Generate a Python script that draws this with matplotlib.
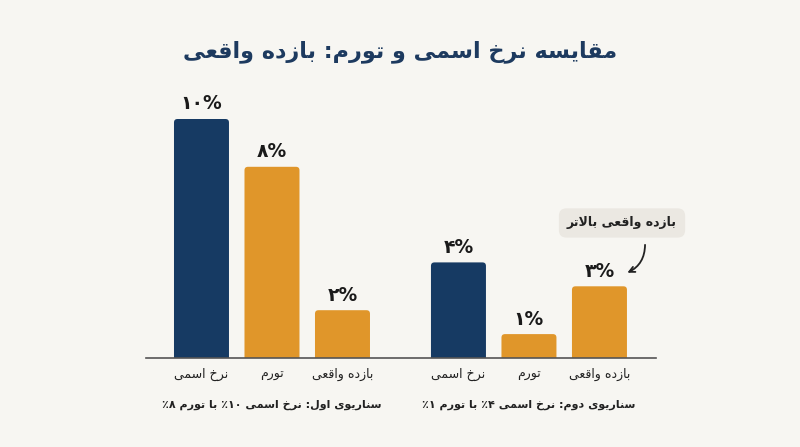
import re
import matplotlib.pyplot as plt
from matplotlib.patches import FancyBboxPatch

# --- data ---
title = 'مقایسه نرخ اسمی و تورم: بازده واقعی'
categories = ['نرخ اسمی', 'تورم', 'بازده واقعی']
scenario1 = [10, 8, 2]
scenario2 = [4, 1, 3]
value_labels1 = ['۱۰%', '۸%', '۲%']
value_labels2 = ['۴%', '۱%', '۳%']
scenario_titles = ['سناریوی اول: نرخ اسمی ۱۰٪ با تورم ۸٪',
                   'سناریوی دوم: نرخ اسمی ۴٪ با تورم ۱٪']
note = 'بازده واقعی بالاتر'

navy = '#163a63'
orange = '#e0962a'
bg = '#f7f6f2'
colors = [navy, orange, orange]

# matplotlib has no arabic shaping, so pick presentation forms by hand
# (isolated form codepoint, number of forms)
forms = {
    'ا': (0xFE8D, 2), 'ب': (0xFE8F, 4), 'ت': (0xFE95, 4), 'خ': (0xFEA5, 4),
    'د': (0xFEA9, 2), 'ر': (0xFEAD, 2), 'ز': (0xFEAF, 2), 'س': (0xFEB1, 4),
    'ع': (0xFEC9, 4), 'ق': (0xFED5, 4), 'ل': (0xFEDD, 4), 'م': (0xFEE1, 4),
    'ن': (0xFEE5, 4), 'ه': (0xFEE9, 4), 'و': (0xFEED, 2), 'ی': (0xFBFC, 4),
}


def fa(s):
    out = []
    i = 0
    while i < len(s):
        c = s[i]
        if c not in forms:
            out.append(c)
            i += 1
            continue
        prev = s[i - 1] if i > 0 else ''
        join_prev = prev in forms and forms[prev][1] == 4
        if c == 'ل' and i + 1 < len(s) and s[i + 1] == 'ا':
            out.append(chr(0xFEFC if join_prev else 0xFEFB))
            i += 2
            continue
        nxt = s[i + 1] if i + 1 < len(s) else ''
        base, k = forms[c]
        join_next = k == 4 and nxt in forms
        if join_prev and join_next:
            idx = 3
        elif join_prev:
            idx = 1
        elif join_next:
            idx = 2
        else:
            idx = 0
        out.append(chr(base + idx))
        i += 1
    vis = ''.join(reversed(out))
    return re.sub(r'[0-9۰-۹]+', lambda m: m.group(0)[::-1], vis)


plt.rcParams['font.family'] = ['DejaVu Sans']

x1 = [0, 1, 2]
x2 = [3.645, 4.645, 5.645]
width = 0.78

fig = plt.figure(figsize=(8, 4.47), dpi=100)
fig.patch.set_facecolor(bg)
ax = fig.add_axes([146 / 800, 1 - 358 / 447, 510 / 800, (358 - 95.1) / 447])
ax.set_facecolor(bg)
ax.set_xlim(-0.787, 6.447)
ax.set_ylim(0, 11)

for xs, vals, labs in [(x1, scenario1, value_labels1), (x2, scenario2, value_labels2)]:
    bars = ax.bar(xs, vals, width, color=colors)
    # swap each bar for one with slightly rounded top corners
    for r in bars:
        r.set_visible(False)
        ax.add_patch(FancyBboxPatch((r.get_x(), -0.5), r.get_width(), r.get_height() + 0.5,
                                    boxstyle='round,pad=0,rounding_size=0.05',
                                    mutation_aspect=2.9, facecolor=r.get_facecolor(),
                                    edgecolor='none'))
    for x, v, lab in zip(xs, vals, labs):
        ax.annotate(lab, (x, v), xytext=(0, 4), textcoords='offset points',
                    ha='center', va='bottom', fontsize=13.5, fontweight='bold', color='#1a1a1a')
    for x, cat in zip(xs, categories):
        ax.annotate(fa(cat), (x, 0), xytext=(0, -7), textcoords='offset points',
                    ha='center', va='top', fontsize=9, color='#222222')

for xs, st in zip([x1, x2], scenario_titles):
    ax.annotate(fa(st), (xs[1], 0), xytext=(0, -30), textcoords='offset points',
                ha='center', va='top', fontsize=8, fontweight='bold', color='#222222')

# callout on the higher real return
ax.text(x2[2] + 0.32, scenario2[2] + 2.65, fa(note), ha='center', va='center',
        fontsize=9, fontweight='bold', color='#222222',
        bbox=dict(boxstyle='round,pad=0.65,rounding_size=0.6', facecolor='#ebe8e2', edgecolor='none'))
ax.annotate('', xy=(x2[2] + 0.36, scenario2[2] + 0.52), xytext=(x2[2] + 0.646, scenario2[2] + 1.85),
            arrowprops=dict(arrowstyle='->', color='#222222', lw=1.3,
                            connectionstyle='arc3,rad=-0.35'))

for s in ['top', 'left', 'right']:
    ax.spines[s].set_visible(False)
ax.spines['bottom'].set_color('#555555')
ax.spines['bottom'].set_linewidth(1.2)
ax.spines['bottom'].set_zorder(3)
ax.set_xticks([])
ax.set_yticks([])

fig.text(0.5, 1 - 52 / 447, fa(title), ha='center', va='center',
         fontsize=16, fontweight='bold', color='#1d3a5f')

fig.savefig('out.png', dpi=100, facecolor=bg)
